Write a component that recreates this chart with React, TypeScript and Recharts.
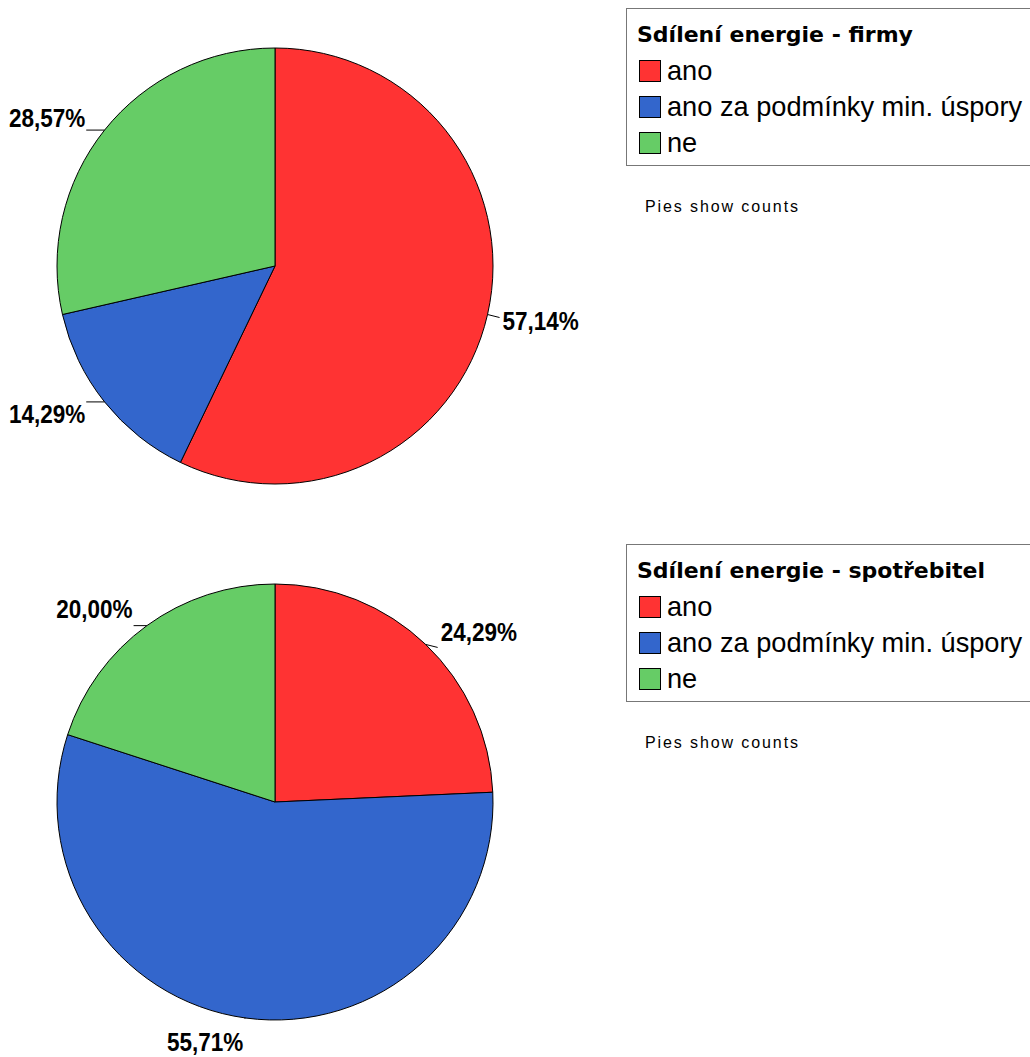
import React from 'react';
import { PieChart, Pie, Cell, Legend } from 'recharts';

// Answer categories shared by both pies
const CATEGORIES = ['ano', 'ano za podmínky min. úspory', 'ne'];
// Response counts per category
const FIRMY_COUNTS = [40, 10, 20];
const SPOTREBITEL_COUNTS = [17, 39, 14];
// Legend titles
const TITLES = ['Sdílení energie - firmy', 'Sdílení energie - spotřebitel'];
const FOOTNOTE = 'Pies show counts';

const COLORS = ['#FF3333', '#3366CC', '#66CC66'];

const RADIAN = Math.PI / 180;
const LABEL_FONT = "'Liberation Sans Narrow', 'Arial Narrow', 'Liberation Sans', Arial, sans-serif";

const toRows = (counts: number[]) =>
  CATEGORIES.map((name, i) => ({ name, value: counts[i] }));

const formatPct = (p: number) => (p * 100).toFixed(2).replace('.', ',') + '%';

// Percentage label placed just outside the slice with a short leader line
const renderLabel = (props: any) => {
  const { cx, cy, midAngle, outerRadius, percent } = props;
  const cos = Math.cos(-midAngle * RADIAN);
  const sin = Math.sin(-midAngle * RADIAN);
  const px = cx + outerRadius * cos;
  const py = cy + outerRadius * sin;
  const right = cos >= 0;
  let tx: number;
  let ty: number;
  if (right) {
    tx = px + 15;
    ty = py + 2.5 + 20 * sin;
  } else {
    tx = px + 26 * cos + 1;
    ty = py + 20 * sin + (sin > 0.9 ? 4 : 0);
  }
  const lx = right ? px + 12 : tx + 1;
  return (
    <g>
      <line x1={px} y1={py} x2={lx} y2={py + (right ? 3 : 0)} stroke="#000" strokeWidth={1} />
      <text
        x={0}
        y={0}
        transform={`translate(${tx},${ty}) scale(0.9,1)`}
        textAnchor={right ? 'start' : 'end'}
        dominantBaseline="central"
        fontFamily={LABEL_FONT}
        fontWeight="bold"
        fontSize={25}
        fill="#000"
      >
        {formatPct(percent)}
      </text>
    </g>
  );
};

const LegendBox = ({ title }: { title: string }) => (
  <div style={{ fontFamily: "'Liberation Sans', Arial, sans-serif", color: '#000' }}>
    <div
      style={{
        border: '1px solid #777',
        width: 440,
        height: 158,
        boxSizing: 'border-box',
        padding: '8px 0 0 10px',
        background: '#fff',
      }}
    >
      <div
        style={{
          fontFamily: "'DejaVu Sans', Verdana, sans-serif",
          fontWeight: 'bold',
          fontSize: 22,
          lineHeight: '36px',
          height: 36,
          whiteSpace: 'nowrap',
        }}
      >
        {title}
      </div>
      {CATEGORIES.map((c, i) => (
        <div
          key={c}
          style={{ display: 'flex', alignItems: 'center', height: 36, whiteSpace: 'nowrap' }}
        >
          <span
            style={{
              display: 'inline-block',
              width: 22,
              height: 22,
              boxSizing: 'border-box',
              border: '1px solid #000',
              background: COLORS[i],
              marginRight: 6,
              marginLeft: 2,
            }}
          />
          <span style={{ fontSize: 27.2, lineHeight: '36px' }}>{c}</span>
        </div>
      ))}
    </div>
    <div
      style={{
        marginTop: 32,
        marginLeft: 19,
        fontSize: 16,
        letterSpacing: 1.9,
        whiteSpace: 'nowrap',
      }}
    >
      {FOOTNOTE}
    </div>
  </div>
);

const PiePanel = ({ counts, title, top }: { counts: number[]; title: string; top: number }) => (
  <div style={{ position: 'absolute', left: 0, top }}>
    <PieChart width={1030} height={521} margin={{ top: 0, right: 0, bottom: 0, left: 0 }}>
      <Pie
        data={toRows(counts)}
        dataKey="value"
        nameKey="name"
        cx={275}
        cy={266}
        outerRadius={218}
        startAngle={90}
        endAngle={-270}
        stroke="#000"
        strokeWidth={1}
        label={renderLabel}
        labelLine={false}
        isAnimationActive={false}
      >
        {counts.map((_, i) => (
          <Cell key={i} fill={COLORS[i]} />
        ))}
      </Pie>
      <Legend
        layout="vertical"
        verticalAlign="top"
        align="right"
        wrapperStyle={{ left: 626, top: 8, width: 440 }}
        content={() => <LegendBox title={title} />}
      />
    </PieChart>
  </div>
);

export default function App() {
  return (
    <div
      style={{
        position: 'absolute',
        left: 0,
        top: 0,
        width: 1030,
        height: 1057,
        background: '#fff',
        overflow: 'hidden',
      }}
    >
      <PiePanel counts={FIRMY_COUNTS} title={TITLES[0]} top={0} />
      <PiePanel counts={SPOTREBITEL_COUNTS} title={TITLES[1]} top={536} />
    </div>
  );
}
